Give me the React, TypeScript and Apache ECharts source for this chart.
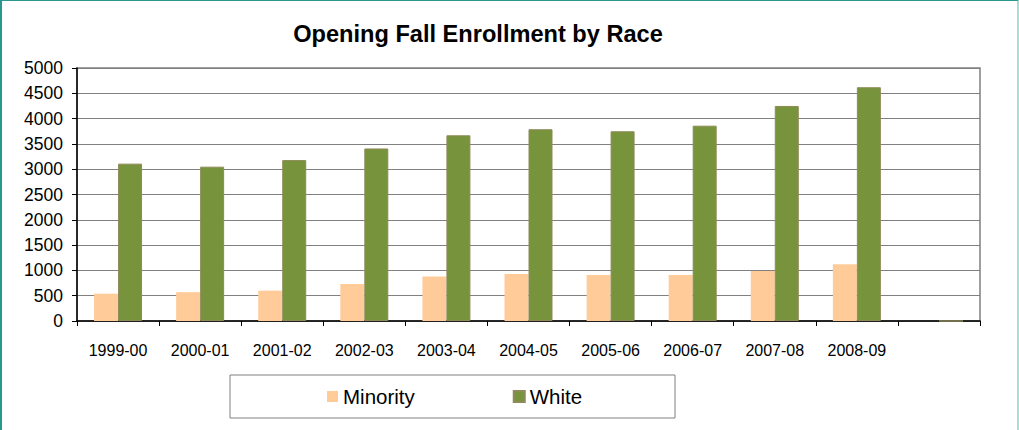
import React, { useEffect, useRef } from "react";
import * as echarts from "echarts";

const categories = ["1999-00", "2000-01", "2001-02", "2002-03", "2003-04", "2004-05", "2005-06", "2006-07", "2007-08", "2008-09", ""];
const minority = [540, 570, 600, 730, 880, 930, 910, 910, 990, 1120, 0];
const white = [3110, 3050, 3180, 3410, 3670, 3790, 3750, 3860, 4250, 4620, 0];
const yTicks = { min: 0, max: 5000, interval: 500 };

const FONT = "'Liberation Sans', Arial, sans-serif";

export default function App() {
  const ref = useRef<HTMLDivElement>(null);
  useEffect(() => {
    document.body.style.margin = "0";
    const chart = echarts.init(ref.current!, null, { renderer: "svg" });
    chart.setOption({
      animation: false,
      title: {
        text: "Opening Fall Enrollment by Race",
        left: 473,
        textAlign: "center",
        top: 17,
        textStyle: { fontFamily: FONT, fontSize: 23.6, fontWeight: "bold", color: "#000" },
      },
      grid: {
        left: 77,
        right: 39,
        top: 68,
        bottom: 109,
        show: true,
        borderColor: "#808080",
        borderWidth: 1.5,
        backgroundColor: "#fff",
      },
      legend: {
        left: 327,
        top: 386,
        padding: 0,
        itemWidth: 11,
        itemHeight: 11,
        itemGap: 98,
        icon: "rect",
        textStyle: { fontFamily: FONT, fontSize: 20.5, color: "#000" },
        data: ["Minority", "White"],
      },
      graphic: [
        {
          type: "rect",
          shape: { x: 230, y: 375, width: 445, height: 43 },
          style: { fill: "none", stroke: "#808080", lineWidth: 1 },
        },
      ],
      xAxis: {
        type: "category",
        data: categories,
        axisLine: { lineStyle: { color: "#000", width: 1.5 } },
        axisTick: { show: true, length: 5, lineStyle: { color: "#000" } },
        axisLabel: { fontFamily: FONT, fontSize: 16, color: "#000", margin: 21 },
      },
      yAxis: {
        type: "value",
        min: yTicks.min,
        max: yTicks.max,
        interval: yTicks.interval,
        axisLine: { show: true, lineStyle: { color: "#000", width: 1.5 } },
        axisTick: { show: true, length: 5, lineStyle: { color: "#000" } },
        axisLabel: {
          fontFamily: FONT,
          fontSize: 17.5,
          color: "#000",
          margin: 14,
          formatter: (v: number) => String(v),
        },
        splitLine: { lineStyle: { color: "#808080", width: 1 } },
      },
      series: [
        {
          name: "Minority",
          type: "bar",
          data: minority,
          barWidth: 24,
          barGap: "0%",
          itemStyle: { color: "#FFCC99" },
        },
        {
          name: "White",
          type: "bar",
          data: white,
          barWidth: 24,
          itemStyle: { color: "#77933C", borderColor: "#8f8a5a", borderWidth: 1 },
        },
      ],
    });
    return () => chart.dispose();
  }, []);
  return (
    <div style={{ position: "absolute", left: 0, top: 0, width: 1019, height: 430, background: "#fff" }}>
      <div ref={ref} style={{ position: "absolute", left: 0, top: 0, width: 1019, height: 430 }} />
      <div
        style={{
          position: "absolute",
          left: 0,
          top: 0,
          width: 1019,
          height: 430,
          boxSizing: "border-box",
          borderLeft: "2px solid #2a9690",
          borderTop: "1px solid #2a9690",
          borderRight: "2px solid #a8dcd6",
          pointerEvents: "none",
        }}
      />
    </div>
  );
}
